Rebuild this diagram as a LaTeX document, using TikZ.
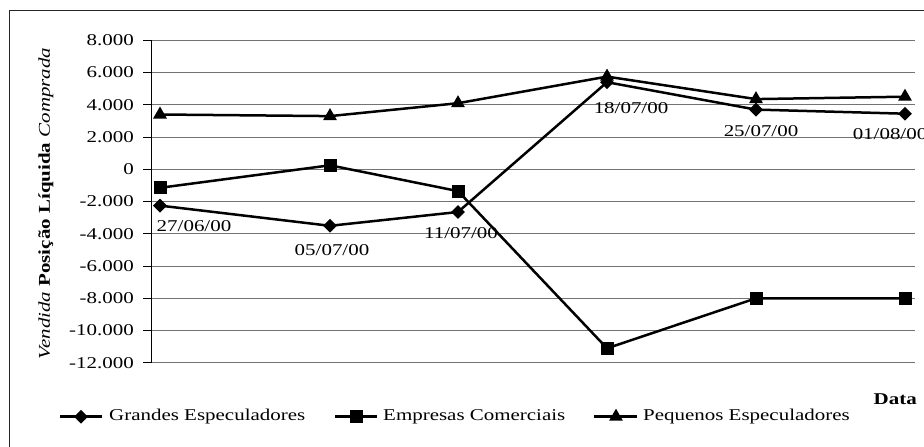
\documentclass[tikz,border=0pt]{standalone}
\usepackage{fontspec}
\setmainfont{Liberation Serif}[FakeStretch=1.27]
\usetikzlibrary{shapes.geometric}
\begin{document}
\begin{tikzpicture}[x=1pt,y=-1pt,
  every node/.style={inner sep=0pt},
  txt/.style={font=\fontsize{16.5}{19}\selectfont},
  grid/.style={draw=black!55, line width=1pt},
  axisline/.style={draw=black, line width=1pt},
  series/.style={draw=black, line width=2.5pt},
  dmark/.style={diamond, fill=black, minimum width=14pt, minimum height=14pt},
  smark/.style={rectangle, fill=black, minimum size=13pt},
  tmark/.style={regular polygon, regular polygon sides=3, fill=black, minimum size=16pt}]
\useasboundingbox (0,0) rectangle (924,447);
% frame
\draw[line width=1pt, black!85] (9.5,10) rectangle (940,460);
% gridlines, ticks and tick labels
\foreach \v/\lab in {8/8.000,6/6.000,4/4.000,2/2.000,0/0,-2/-2.000,-4/-4.000,-6/-6.000,-8/-8.000,-10/-10.000,-12/-12.000}{
  \pgfmathsetmacro{\yy}{169.3-\v*16.13}
  \draw[grid] (151,\yy) -- (915,\yy);
  \draw[axisline] (143,\yy) -- (151,\yy);
  \node[txt, anchor=east] at (134,\yy) {\lab};
}
\draw[axisline] (151,40.26) -- (151,362.9);
% y title
\node[txt, rotate=90] (ytitle) at (46,203.5) {\textit{Vendida} \textbf{Posição Líquida} \textit{Comprada}};
\node[txt, anchor=east] (xtitle) at (917,399) {\textbf{Data}};
% data coordinates
\coordinate (g1) at (160,205.6);
\coordinate (g2) at (330,225.8);
\coordinate (g3) at (458,212.0);
\coordinate (g4) at (607,82.2);
\coordinate (g5) at (756,109.6);
\coordinate (g6) at (905,113.7);
\coordinate (e1) at (160,187.8);
\coordinate (e2) at (330,165.3);
\coordinate (e3) at (458,191.1);
\coordinate (e4) at (607,348.3);
\coordinate (e5) at (756,298.3);
\coordinate (e6) at (905,298.3);
\coordinate (p1) at (160,114.5);
\coordinate (p2) at (330,116.1);
\coordinate (p3) at (458,103.2);
\coordinate (p4) at (607,76.6);
\coordinate (p5) at (756,99.1);
\coordinate (p6) at (905,96.7);
% series lines
\draw[series] (g1) -- (g2) -- (g3) -- (g4) -- (g5) -- (g6);
\draw[series] (e1) -- (e2) -- (e3) -- (e4) -- (e5) -- (e6);
\draw[series] (p1) -- (p2) -- (p3) -- (p4) -- (p5) -- (p6);
% markers
\foreach \i in {1,...,6}{
  \node[smark] (em\i) at (e\i) {};
  \node[tmark] (pm\i) at (p\i) {};
  \node[dmark] (gm\i) at (g\i) {};
}
% date labels
\node[txt] (l1) at (194,226) {27/06/00};
\node[txt] (l2) at (332,250) {05/07/00};
\node[txt] (l3) at (461,233) {11/07/00};
\node[txt] (l4) at (631,108) {18/07/00};
\node[txt] (l5) at (761,131) {25/07/00};
\node[txt] (l6) at (890,134) {01/08/00};
% legend
\coordinate (la1) at (60,416.7); \coordinate (lb1) at (102,416.7);
\draw[series] (la1) -- (lb1);
\node[dmark] (lm1) at (81,416.7) {};
\node[txt, anchor=west] (lt1) at (109,416.7) {Grandes Especuladores};
\coordinate (la2) at (335,416.7); \coordinate (lb2) at (377,416.7);
\draw[series] (la2) -- (lb2);
\node[smark] (lm2) at (356,416.7) {};
\node[txt, anchor=west] (lt2) at (383,416.7) {Empresas Comerciais};
\coordinate (la3) at (594,416.7); \coordinate (lb3) at (637,416.7);
\draw[series] (la3) -- (lb3);
\node[tmark] (lm3) at (616,416.7) {};
\node[txt, anchor=west] (lt3) at (643,416.7) {Pequenos Especuladores};
\end{tikzpicture}
\end{document}
